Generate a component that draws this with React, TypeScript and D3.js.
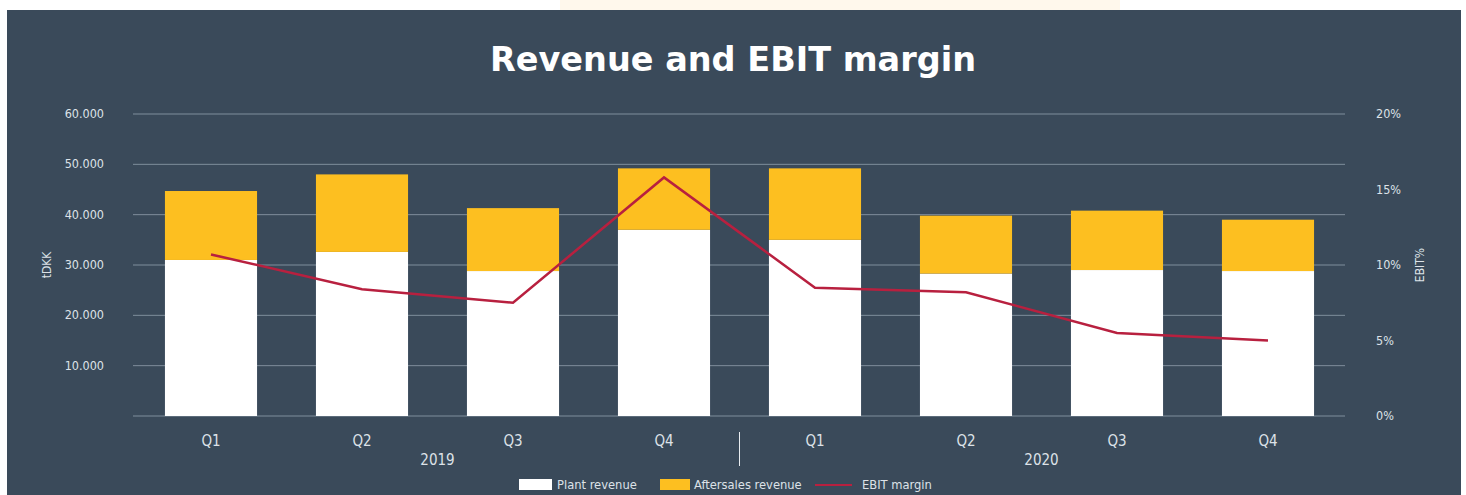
import * as d3 from "d3";
import { useRef, useEffect } from "react";

const quarters = ["Q1", "Q2", "Q3", "Q4", "Q1", "Q2", "Q3", "Q4"];
const years = ["2019", "2019", "2019", "2019", "2020", "2020", "2020", "2020"];
const plantRevenue = [31000, 32600, 28800, 37000, 35000, 28300, 29000, 28800];
const aftersalesRevenue = [13700, 15400, 12500, 12200, 14200, 11500, 11800, 10200];
const ebitMargin = [10.7, 8.4, 7.5, 15.8, 8.5, 8.2, 5.5, 5.0];
const leftTicks = [10000, 20000, 30000, 40000, 50000, 60000];
const rightTicks = [0, 5, 10, 15, 20];

export default function App() {
  const svgRef = useRef<SVGSVGElement>(null);
  const width = 1466;
  const height = 495;

  useEffect(() => {
    const svg = d3.select(svgRef.current);
    svg.selectAll("*").remove();

    const bg = "#3a4a5a";
    const yellow = "#fdbf20";
    const red = "#b8203f";
    const text = "#dde2e8";
    const font = "'DejaVu Sans Condensed', 'Liberation Sans Narrow', 'Roboto', sans-serif";

    const left = 135.5, right = 1343.5, top = 114, bottom = 416;
    const keys = quarters.map((q, i) => `${years[i]}-${q}`);

    const x = d3.scaleBand().domain(keys).range([left, right]).paddingInner(0.39).paddingOuter(0.195);
    const y = d3.scaleLinear().domain([0, 60000]).range([bottom, top]);
    const y2 = d3.scaleLinear().domain([0, 20]).range([bottom, top]);

    // page & panel
    svg.append("rect").attr("width", width).attr("height", height).attr("fill", "#ffffff");
    svg.append("rect").attr("x", 560).attr("y", 0).attr("width", 560).attr("height", 10).attr("fill", "#fff8ec");
    svg.append("rect").attr("x", 7).attr("y", 10).attr("width", 1454).attr("height", 485).attr("fill", bg);

    // title
    svg.append("text")
      .attr("x", 733).attr("y", 71)
      .attr("text-anchor", "middle")
      .attr("fill", "#ffffff")
      .style("font-family", "'DejaVu Sans', sans-serif")
      .style("font-size", "33.5px")
      .style("font-weight", "bold")
      .text("Revenue and EBIT margin");

    // gridlines
    svg.append("g").selectAll("line")
      .data([0, ...leftTicks])
      .join("line")
      .attr("x1", 133).attr("x2", 1345)
      .attr("y1", d => y(d)).attr("y2", d => y(d))
      .attr("stroke", "#7f8e9c").attr("stroke-width", 1);

    // left axis labels
    svg.append("g").selectAll("text")
      .data(leftTicks)
      .join("text")
      .attr("x", 104).attr("y", d => y(d) + 4)
      .attr("text-anchor", "end")
      .attr("fill", text)
      .style("font-family", font).style("font-size", "12.5px")
      .text(d => d3.format(",")(d).replace(",", "."));

    // right axis labels
    svg.append("g").selectAll("text")
      .data(rightTicks)
      .join("text")
      .attr("x", 1376).attr("y", d => y2(d) + 4)
      .attr("fill", text)
      .style("font-family", font).style("font-size", "12.5px")
      .text(d => `${d}%`);

    // axis titles
    svg.append("text")
      .attr("transform", "translate(51,265) rotate(-90)")
      .attr("text-anchor", "middle").attr("fill", text)
      .style("font-family", font).style("font-size", "12px")
      .text("tDKK");
    svg.append("text")
      .attr("transform", "translate(1424,265) rotate(-90)")
      .attr("text-anchor", "middle").attr("fill", text)
      .style("font-family", font).style("font-size", "12px")
      .text("EBIT%");

    // bars
    const bars = svg.append("g");
    bars.selectAll("rect.plant")
      .data(keys)
      .join("rect")
      .attr("class", "plant")
      .attr("x", d => x(d)!).attr("width", x.bandwidth())
      .attr("y", (d, i) => y(plantRevenue[i]))
      .attr("height", (d, i) => bottom - y(plantRevenue[i]))
      .attr("fill", "#ffffff");
    bars.selectAll("rect.after")
      .data(keys)
      .join("rect")
      .attr("class", "after")
      .attr("x", d => x(d)!).attr("width", x.bandwidth())
      .attr("y", (d, i) => y(plantRevenue[i] + aftersalesRevenue[i]))
      .attr("height", (d, i) => y(plantRevenue[i]) - y(plantRevenue[i] + aftersalesRevenue[i]))
      .attr("fill", yellow);

    // EBIT line
    const line = d3.line<number>()
      .x((d, i) => x(keys[i])! + x.bandwidth() / 2)
      .y(d => y2(d));
    svg.append("path")
      .attr("d", line(ebitMargin))
      .attr("fill", "none")
      .attr("stroke", red)
      .attr("stroke-width", 2.5);

    // quarter labels
    svg.append("g").selectAll("text")
      .data(keys)
      .join("text")
      .attr("x", d => x(d)! + x.bandwidth() / 2)
      .attr("y", 446)
      .attr("text-anchor", "middle").attr("fill", text)
      .style("font-family", font).style("font-size", "15px")
      .text((d, i) => quarters[i]);

    // year labels
    const yearNames = Array.from(new Set(years));
    svg.append("g").selectAll("text")
      .data(yearNames)
      .join("text")
      .attr("x", yr => {
        const ks = keys.filter((k, i) => years[i] === yr);
        return (x(ks[0])! + x(ks[ks.length - 1])! + x.bandwidth()) / 2;
      })
      .attr("y", 465)
      .attr("text-anchor", "middle").attr("fill", text)
      .style("font-family", font).style("font-size", "15px")
      .text(d => d);

    // year separator
    const sep = (x(keys[3])! + x.bandwidth() + x(keys[4])!) / 2;
    svg.append("line")
      .attr("x1", sep).attr("x2", sep).attr("y1", 432).attr("y2", 466)
      .attr("stroke", "#e8ecf0").attr("stroke-width", 1);

    // legend
    const lg = svg.append("g").style("font-family", font).style("font-size", "12.8px");
    lg.append("rect").attr("x", 519).attr("y", 479).attr("width", 33).attr("height", 11).attr("fill", "#ffffff");
    lg.append("text").attr("x", 557).attr("y", 489).attr("fill", text).text("Plant revenue");
    lg.append("rect").attr("x", 660).attr("y", 479).attr("width", 30).attr("height", 11).attr("fill", yellow);
    lg.append("text").attr("x", 694).attr("y", 489).attr("fill", text).text("Aftersales revenue");
    lg.append("line").attr("x1", 815).attr("x2", 852).attr("y1", 485).attr("y2", 485).attr("stroke", red).attr("stroke-width", 2);
    lg.append("text").attr("x", 862).attr("y", 489).attr("fill", text).text("EBIT margin");
  }, []);

  return (
    <svg
      ref={svgRef}
      width={width}
      height={height}
      style={{ position: "absolute", left: 0, top: 0, display: "block" }}
    />
  );
}
